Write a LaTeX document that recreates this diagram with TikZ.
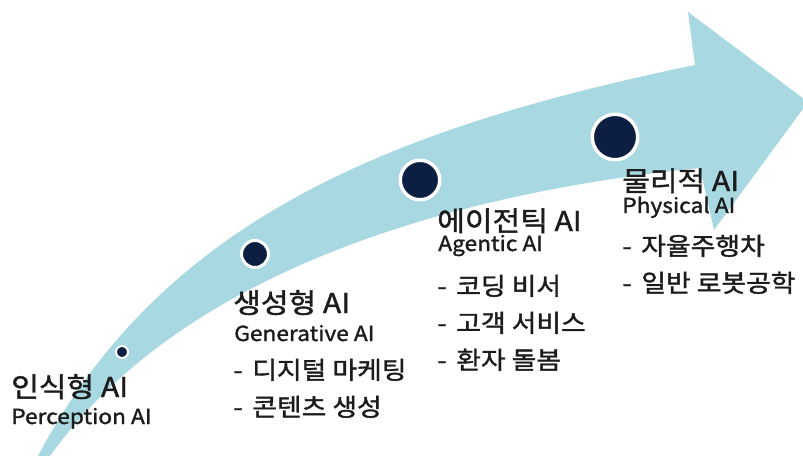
\documentclass[tikz,border=0pt]{standalone}
\usepackage{fontspec}
\setmainfont{Noto Sans CJK KR}[FakeStretch=1.1,FakeBold=1.5]
\usetikzlibrary{positioning}
\definecolor{skyband}{RGB}{168,216,225}
\definecolor{navydot}{RGB}{12,30,66}
\definecolor{textgray}{RGB}{28,28,28}

\begin{document}
\begin{tikzpicture}[x=0.75pt,y=-0.75pt,
  ttl/.style={anchor=base west,inner sep=0pt,font=\fontsize{20.5}{24}\selectfont,text=textgray},
  subttl/.style={anchor=base west,inner sep=0pt,font=\fontsize{15.5}{18}\selectfont,text=textgray},
  itm/.style={anchor=base west,inner sep=0pt,font=\fontsize{18.3}{22}\selectfont,text=textgray},
  stagedot/.style={circle,draw=white,fill=navydot,inner sep=0pt}]
\useasboundingbox (0,0) rectangle (803,456);
\clip (0,0) rectangle (803,456);
\fill[skyband] (38,456) .. controls (160,225) and (380,130) .. (695,65) -- (688,12) -- (808,102)
  -- (714,230) -- (700,168) .. controls (480,190) and (190,260) .. (50,456) -- cycle;
\node[stagedot,minimum size=9pt,line width=1.5pt] (d1) at (122,352) {};
\node[stagedot,minimum size=20.25pt,line width=2.25pt] (d2) at (255,254) {};
\node[stagedot,minimum size=29.6pt,line width=2.6pt] (d3) at (420,180) {};
\node[stagedot,minimum size=34.1pt,line width=2.6pt] (d4) at (615,137) {};
\node[ttl] (t1) at (11,397) {인식형 AI};
\node[subttl] (s1) at (11,424) {Perception AI};
\node[ttl] (t2) at (233,313) {생성형 AI};
\node[subttl] (s2) at (234,341) {Generative AI};
\node[itm] (b21) at (233,379) {-\hspace{0.4em}디지털 마케팅};
\node[itm] (b22) at (233,416) {-\hspace{0.4em}콘텐츠 생성};
\node[ttl] (t3) at (437,231) {에이전틱 AI};
\node[subttl] (s3) at (438,251) {Agentic AI};
\node[itm] (b31) at (437,295) {-\hspace{0.4em}코딩 비서};
\node[itm] (b32) at (437,332) {-\hspace{0.4em}고객 서비스};
\node[itm] (b33) at (437,369) {-\hspace{0.4em}환자 돌봄};
\node[ttl] (t4) at (622,191) {물리적 AI};
\node[subttl] (s4) at (622,213) {Physical AI};
\node[itm] (b41) at (622,255) {-\hspace{0.4em}자율주행차};
\node[itm] (b42) at (622,292) {-\hspace{0.4em}일반 로봇공학};
\end{tikzpicture}
\end{document}
